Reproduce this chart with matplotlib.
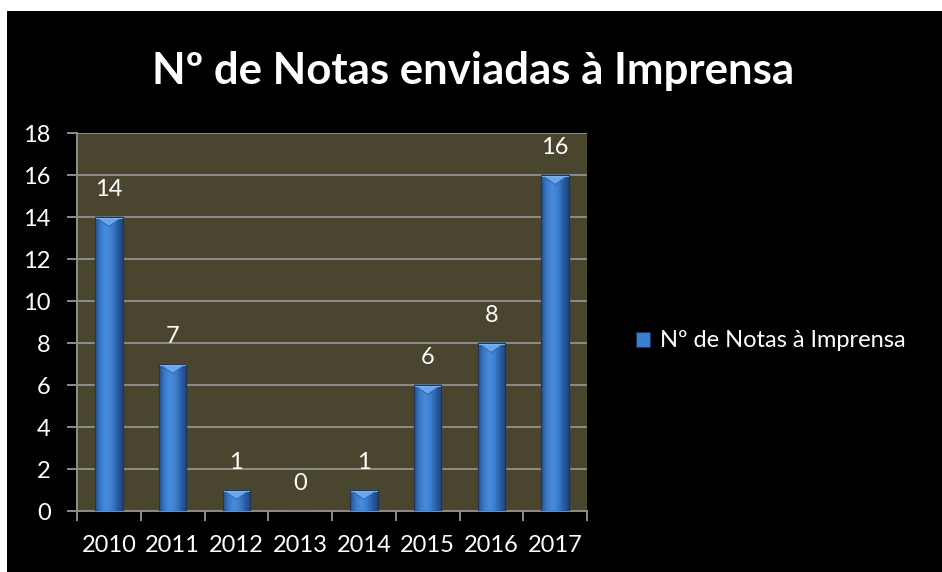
import numpy as np
import matplotlib.pyplot as plt
from matplotlib.patches import Polygon, Rectangle
from matplotlib.colors import LinearSegmentedColormap

anos = ['2010', '2011', '2012', '2013', '2014', '2015', '2016', '2017']
notas = [14, 7, 1, 0, 1, 6, 8, 16]
titulo = 'Nº de Notas enviadas à Imprensa'
serie = 'Nº de Notas à Imprensa'

plt.rcParams['font.family'] = ['Lato', 'DejaVu Sans']

fig = plt.figure(figsize=(9.42, 5.72), dpi=100, facecolor='white')
# fundo preto do gráfico (margem branca em cima e à esquerda)
fig.patches.append(Rectangle((7 / 942, 0), 1, 1 - 11 / 572, transform=fig.transFigure,
                             facecolor='black', edgecolor='none', zorder=-1))

ax = fig.add_axes([77 / 942, 1 - 511 / 572, 510 / 942, 378 / 572])
ax.set_facecolor('#4a452e')

x = np.arange(len(anos))
largura = 0.43
barras = ax.bar(x, notas, width=largura, color='#3b7ed4', edgecolor='#1d3557',
                linewidth=0.8, zorder=3)

# gradiente horizontal e bisel no topo de cada barra
azul = LinearSegmentedColormap.from_list('azul', ['#24508c', '#3a7acb', '#4a8cdc',
                                                  '#3d7fd0', '#2a5ea6', '#1f4478'])
grad = np.vstack([np.linspace(0, 1, 64)] * 2)
for b, v in zip(barras, notas):
    if v <= 0:
        continue
    x0 = b.get_x()
    w = b.get_width()
    im = ax.imshow(grad, extent=(x0, x0 + w, 0, v), aspect='auto', cmap=azul,
                   zorder=3.5, interpolation='bicubic')
    im.set_clip_path(b)
    h = min(0.45, v * 0.5)
    ax.add_patch(Polygon([[x0, v], [x0 + w, v], [x0 + w * 0.5, v - h]], closed=True,
                         facecolor='#68a6ee', edgecolor='#2c5d9c', linewidth=0.6, zorder=4))
    ax.add_patch(Rectangle((x0, v - 0.1), w, 0.1, facecolor='#86baf2', edgecolor='none',
                           zorder=4.2))
    ax.add_patch(Rectangle((x0, 0), w, v, facecolor='none', edgecolor='#1d3557',
                           linewidth=0.8, zorder=5))

for xi, v in zip(x, notas):
    ax.annotate(str(v), (xi, v), xytext=(0, 12), textcoords='offset points',
                ha='center', va='bottom', color='white', fontsize=17)

ax.set_xlim(-0.5, len(anos) - 0.5)
ax.set_ylim(0, 18)
ax.set_yticks(range(0, 19, 2))
ax.set_xticks(x)
ax.set_xticklabels(anos)
ax.set_xticks(np.arange(-0.5, len(anos)), minor=True)
ax.grid(axis='y', color='#8c8c8c', linewidth=1.4, zorder=1)
ax.set_axisbelow(True)

for s in ['top', 'right']:
    ax.spines[s].set_visible(False)
for s in ['left', 'bottom']:
    ax.spines[s].set_color('#8c8c8c')
    ax.spines[s].set_linewidth(1.4)

ax.tick_params(axis='y', colors='#8c8c8c', labelcolor='white', labelsize=17,
               length=7, width=1.4, pad=12)
ax.tick_params(axis='x', which='major', length=0, labelcolor='white', labelsize=17, pad=17)
ax.tick_params(axis='x', which='minor', length=7, width=1.4, color='#8c8c8c')

fig.text(473 / 942, 1 - 71 / 572, titulo, ha='center', va='center', color='white',
         fontsize=31.5, fontweight='bold')

leg = ax.legend([barras[0]], [serie], loc='center left', bbox_to_anchor=(1.055, 0.45),
                frameon=False, fontsize=17, handlelength=0.6, handleheight=0.6,
                handletextpad=0.4, labelcolor='white')

fig.savefig('out.png', dpi=100, facecolor=fig.get_facecolor())
